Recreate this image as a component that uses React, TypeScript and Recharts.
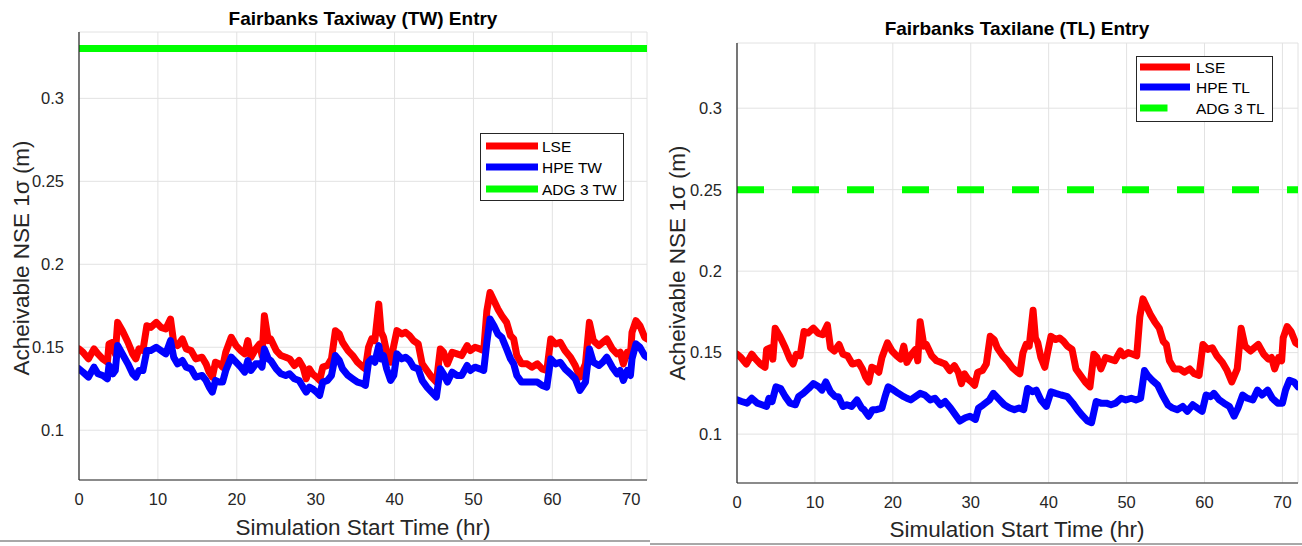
import React from "react";
import { LineChart, Line, XAxis, YAxis, CartesianGrid } from "recharts";

// ---------- data ----------
const xTicks = [0, 10, 20, 30, 40, 50, 60, 70];
const yTicks = [0.1, 0.15, 0.2, 0.25, 0.3];

const lseTime = [
  0, 0.5, 1.2, 1.9, 2.4, 3.0, 3.6, 3.8, 4.3, 4.6, 4.9, 5.5, 6.2, 6.8, 7.2, 7.6, 8.1, 8.6, 9.1, 9.8,
  10.4, 11.0, 11.6, 12.0, 12.5, 13.1, 13.6, 14.2, 14.8, 15.6, 16.1, 16.5, 16.9, 17.3, 17.8, 18.2, 18.6, 19.3, 19.9,
  20.5, 21.0, 21.4, 21.8, 22.4, 22.9, 23.2, 23.5, 24.0, 24.3, 25.0, 25.6, 26.2, 26.7, 27.3, 27.9, 28.4, 28.8, 29.2, 29.6,
  30.1, 30.5, 30.9, 31.5, 32.0, 32.5, 33.0, 33.4, 34.1, 34.7, 35.3, 36.0, 36.3, 36.7, 37.1, 37.5, 38.0, 38.3, 38.6, 39.0, 39.5, 39.9,
  40.3, 40.9, 41.4, 41.9, 42.4, 43.0, 43.5, 44.1, 44.7, 45.3, 45.8, 46.2, 46.7, 47.3, 47.9, 48.5, 49.2, 49.6,
  50.2, 50.8, 51.3, 51.7, 52.1, 52.6, 53.1, 53.6, 54.2, 54.7, 55.1, 55.5, 56.1, 56.8, 57.4, 58.1, 58.7, 59.3, 59.8,
  60.4, 61.0, 61.6, 62.3, 62.9, 63.5, 64.2, 64.7, 65.2, 65.9, 66.4, 66.9, 67.6, 68.2, 68.6, 69.0, 69.5, 69.9,
  70.1, 70.6, 71.1, 71.7, 72.0,
];
const lseValue = [
  0.149, 0.147, 0.143, 0.149, 0.146, 0.143, 0.141, 0.152, 0.153, 0.146, 0.165, 0.160, 0.153, 0.146, 0.143, 0.149, 0.148, 0.163, 0.162, 0.165,
  0.162, 0.161, 0.167, 0.153, 0.151, 0.155, 0.149, 0.148, 0.143, 0.144, 0.140, 0.135, 0.132, 0.141, 0.140, 0.138, 0.147, 0.156, 0.151,
  0.148, 0.146, 0.154, 0.144, 0.149, 0.152, 0.145, 0.169, 0.154, 0.155, 0.148, 0.145, 0.144, 0.143, 0.139, 0.142, 0.138, 0.131, 0.137, 0.134,
  0.132, 0.130, 0.138, 0.139, 0.143, 0.160, 0.158, 0.153, 0.148, 0.145, 0.141, 0.138, 0.137, 0.150, 0.155, 0.154, 0.176, 0.159, 0.156, 0.147, 0.141, 0.151,
  0.160, 0.158, 0.159, 0.157, 0.154, 0.152, 0.140, 0.136, 0.132, 0.129, 0.149, 0.147, 0.140, 0.147, 0.146, 0.145, 0.151, 0.148,
  0.150, 0.149, 0.148, 0.172, 0.183, 0.178, 0.173, 0.169, 0.165, 0.157, 0.155, 0.145, 0.140, 0.140, 0.138, 0.140, 0.137, 0.136, 0.155,
  0.152, 0.153, 0.148, 0.144, 0.139, 0.132, 0.140, 0.165, 0.154, 0.151, 0.153, 0.155, 0.149, 0.146, 0.147, 0.140, 0.147, 0.145,
  0.159, 0.166, 0.163, 0.156, 0.155,
];

const hpeTwTime = lseTime;
const hpeTwValue = [
  0.137, 0.135, 0.132, 0.138, 0.134, 0.133, 0.131, 0.139, 0.134, 0.136, 0.151, 0.146, 0.140, 0.134, 0.132, 0.136, 0.136, 0.148, 0.148, 0.150,
  0.148, 0.146, 0.154, 0.144, 0.140, 0.142, 0.138, 0.137, 0.132, 0.133, 0.130, 0.126, 0.123, 0.130, 0.129, 0.129, 0.136, 0.144, 0.141,
  0.138, 0.135, 0.142, 0.136, 0.140, 0.140, 0.138, 0.149, 0.143, 0.142, 0.137, 0.134, 0.133, 0.134, 0.131, 0.130, 0.126, 0.123, 0.126, 0.125,
  0.123, 0.121, 0.129, 0.130, 0.133, 0.145, 0.142, 0.137, 0.133, 0.131, 0.129, 0.128, 0.127, 0.141, 0.143, 0.141, 0.151, 0.143, 0.145, 0.137, 0.130, 0.133,
  0.146, 0.143, 0.144, 0.142, 0.138, 0.137, 0.130, 0.126, 0.123, 0.120, 0.137, 0.134, 0.129, 0.135, 0.133, 0.133, 0.139, 0.136,
  0.138, 0.137, 0.136, 0.153, 0.167, 0.163, 0.158, 0.156, 0.149, 0.143, 0.140, 0.133, 0.129, 0.129, 0.129, 0.129, 0.127, 0.126, 0.143,
  0.140, 0.141, 0.137, 0.134, 0.131, 0.124, 0.129, 0.149, 0.141, 0.139, 0.141, 0.144, 0.138, 0.134, 0.136, 0.130, 0.136, 0.133,
  0.143, 0.152, 0.150, 0.145, 0.144,
];

const hpeTlTime = [
  0, 0.6, 1.3, 1.9, 2.6, 3.2, 3.8, 4.1, 4.5, 5.0, 5.6, 6.2, 6.8, 7.5, 7.9, 8.5, 9.2, 9.8,
  10.5, 10.9, 11.4, 12.0, 12.6, 13.0, 13.6, 14.1, 14.7, 15.4, 16.0, 16.3, 16.9, 17.4, 17.9, 18.6, 19.0, 19.4,
  20.1, 20.7, 21.4, 21.8, 22.3, 22.9, 23.5, 24.1, 24.8, 25.4, 26.1, 26.7, 27.4, 28.0, 28.6, 29.3, 29.9,
  30.6, 31.0, 31.6, 32.4, 32.9, 33.7, 34.3, 35.0, 35.6, 36.2, 36.8, 37.3, 37.9, 38.4, 39.0, 39.7,
  40.3, 40.9, 41.6, 42.4, 43.1, 43.7, 44.4, 45.0, 45.5, 46.1, 46.7, 47.4, 48.0, 48.6, 49.3, 49.9,
  50.6, 51.2, 51.8, 52.3, 52.7, 53.3, 54.0, 54.6, 55.3, 55.9, 56.5, 57.2, 57.8, 58.5, 59.1, 59.7,
  60.2, 60.8, 61.2, 61.9, 62.5, 63.2, 63.8, 64.3, 64.9, 65.5, 66.2, 66.8, 67.4, 68.1, 68.7, 69.4,
  70.0, 70.4, 70.9, 71.5, 72.0,
];
const hpeTlValue = [
  0.121, 0.120, 0.119, 0.122, 0.119, 0.118, 0.117, 0.122, 0.120, 0.129, 0.128, 0.123, 0.119, 0.118, 0.123, 0.125, 0.128, 0.131,
  0.129, 0.127, 0.132, 0.126, 0.123, 0.123, 0.117, 0.118, 0.117, 0.121, 0.116, 0.115, 0.111, 0.115, 0.115, 0.116, 0.123, 0.129,
  0.127, 0.125, 0.123, 0.122, 0.121, 0.123, 0.125, 0.124, 0.121, 0.122, 0.118, 0.120, 0.116, 0.112, 0.108, 0.110, 0.111,
  0.109, 0.116, 0.118, 0.121, 0.125, 0.121, 0.118, 0.116, 0.115, 0.116, 0.115, 0.128, 0.126, 0.127, 0.121, 0.117,
  0.126, 0.125, 0.124, 0.123, 0.119, 0.115, 0.111, 0.108, 0.107, 0.120, 0.119, 0.119, 0.118, 0.119, 0.122, 0.121,
  0.122, 0.121, 0.122, 0.139, 0.136, 0.133, 0.130, 0.124, 0.118, 0.116, 0.115, 0.117, 0.114, 0.118, 0.116, 0.114,
  0.124, 0.123, 0.125, 0.121, 0.119, 0.117, 0.111, 0.116, 0.124, 0.122, 0.121, 0.127, 0.124, 0.127, 0.122, 0.119,
  0.119, 0.127, 0.133, 0.132, 0.129,
];

const adgTime = [0, 72];
const adgTwValue = [0.33, 0.33];
const adgTlValue = [0.25, 0.25];

// ---------- helpers ----------
const toPoints = (ts: number[], vs: number[]) => ts.map((t, i) => ({ t, v: vs[i] }));

const FONT = "'Liberation Sans', Arial, Helvetica, sans-serif";
const RED = "#ff0000";
const BLUE = "#0000ff";
const GREEN = "#00ff00";
const AXIS = "#262626";
const GRID = "#e2e2e2";

type SeriesDef = { name: string; color: string; data: { t: number; v: number }[]; dash?: string };

const leftSeries: SeriesDef[] = [
  { name: "LSE", color: RED, data: toPoints(lseTime, lseValue) },
  { name: "HPE TW", color: BLUE, data: toPoints(hpeTwTime, hpeTwValue) },
  { name: "ADG 3 TW", color: GREEN, data: toPoints(adgTime, adgTwValue) },
];
const rightSeries: SeriesDef[] = [
  { name: "LSE", color: RED, data: toPoints(lseTime, lseValue) },
  { name: "HPE TL", color: BLUE, data: toPoints(hpeTlTime, hpeTlValue) },
  { name: "ADG 3 TL", color: GREEN, data: toPoints(adgTime, adgTlValue), dash: "27 28" },
];

function Panel(props: {
  width: number;
  margin: { top: number; right: number; bottom: number; left: number };
  yWidth: number;
  series: SeriesDef[];
}) {
  const { width, margin, yWidth, series } = props;
  const tickStyle = { fontFamily: FONT, fontSize: 16.5, fill: AXIS };
  return (
    <LineChart width={width} height={546} margin={margin} style={{ fontFamily: FONT }}>
      <CartesianGrid stroke={GRID} strokeWidth={1} />
      <XAxis
        type="number"
        dataKey="t"
        domain={[0, 72]}
        ticks={xTicks}
        allowDataOverflow
        tick={tickStyle}
        fontSize={16.5}
        fontFamily={FONT}
        tickLine={false}
        axisLine={{ stroke: AXIS, strokeWidth: 1.2 }}
        height={40}
        tickMargin={7}
      />
      <YAxis
        type="number"
        domain={[0.07, 0.34]}
        ticks={yTicks}
        allowDataOverflow
        width={yWidth}
        tick={tickStyle}
        fontSize={16.5}
        fontFamily={FONT}
        tickLine={false}
        axisLine={{ stroke: AXIS, strokeWidth: 1.2 }}
        tickMargin={9}
      />
      {series.map((s) => (
        <Line
          key={s.name}
          data={s.data}
          dataKey="v"
          type="linear"
          stroke={s.color}
          strokeWidth={7}
          strokeDasharray={s.dash}
          strokeLinejoin="round"
          strokeLinecap={s.dash ? "butt" : "round"}
          dot={false}
          activeDot={false}
          isAnimationActive={false}
        />
      ))}
    </LineChart>
  );
}

function LegendBox(props: { x: number; y: number; w: number; h: number; rowY: number[]; lineX: number; lineW: number; textX: number; series: SeriesDef[] }) {
  const { x, y, w, h, rowY, lineX, lineW, textX, series } = props;
  return (
    <g>
      <rect x={x + 0.5} y={y + 0.5} width={w} height={h} fill="#ffffff" stroke={AXIS} strokeWidth={1} />
      {series.map((s, i) => (
        <g key={s.name}>
          <line
            x1={lineX}
            x2={lineX + (s.dash ? lineW * 0.55 : lineW)}
            y1={rowY[i]}
            y2={rowY[i]}
            stroke={s.color}
            strokeWidth={7}
          />
          <text x={textX} y={rowY[i] + 5.5} fontFamily={FONT} fontSize={15.5} fill="#000">
            {s.name}
          </text>
        </g>
      ))}
    </g>
  );
}

export default function App() {
  return (
    <div style={{ position: "absolute", left: 0, top: 0, width: 1302, height: 546, background: "#fff", overflow: "hidden" }}>
      <div style={{ position: "absolute", left: 0, top: 0 }}>
        <Panel width={660} margin={{ top: 32, right: 13, bottom: 26, left: 0 }} yWidth={79} series={leftSeries} />
      </div>
      <div style={{ position: "absolute", left: 660, top: 0 }}>
        <Panel width={642} margin={{ top: 43, right: 4, bottom: 23, left: 0 }} yWidth={77} series={rightSeries} />
      </div>
      <svg width={1302} height={546} style={{ position: "absolute", left: 0, top: 0, pointerEvents: "none" }}>
        <text x={363} y={25} textAnchor="middle" fontFamily={FONT} fontWeight="bold" fontSize={19} fill="#000">
          Fairbanks Taxiway (TW) Entry
        </text>
        <text x={1017} y={35} textAnchor="middle" fontFamily={FONT} fontWeight="bold" fontSize={19} fill="#000">
          Fairbanks Taxilane (TL) Entry
        </text>
        <text x={363} y={535} textAnchor="middle" fontFamily={FONT} fontSize={22.5} fill={AXIS}>
          Simulation Start Time (hr)
        </text>
        <text x={1017} y={537} textAnchor="middle" fontFamily={FONT} fontSize={22.5} fill={AXIS}>
          Simulation Start Time (hr)
        </text>
        <text transform="translate(29,258) rotate(-90)" textAnchor="middle" fontFamily={FONT} fontSize={22.5} fill={AXIS}>
          Acheivable NSE 1σ (m)
        </text>
        <text transform="translate(685,263) rotate(-90)" textAnchor="middle" fontFamily={FONT} fontSize={22.5} fill={AXIS}>
          Acheivable NSE 1σ (m)
        </text>
        <LegendBox x={480} y={133} w={143} h={67} rowY={[146, 167, 189]} lineX={486} lineW={52} textX={542} series={leftSeries} />
        <LegendBox x={1136} y={56} w={136} h={65} rowY={[67, 87, 108]} lineX={1140} lineW={50} textX={1196} series={rightSeries} />
        <rect x={0} y={540} width={650} height={2} fill="#a8a8a8" />
        <rect x={650} y={543} width={652} height={2} fill="#a8a8a8" />
      </svg>
    </div>
  );
}
